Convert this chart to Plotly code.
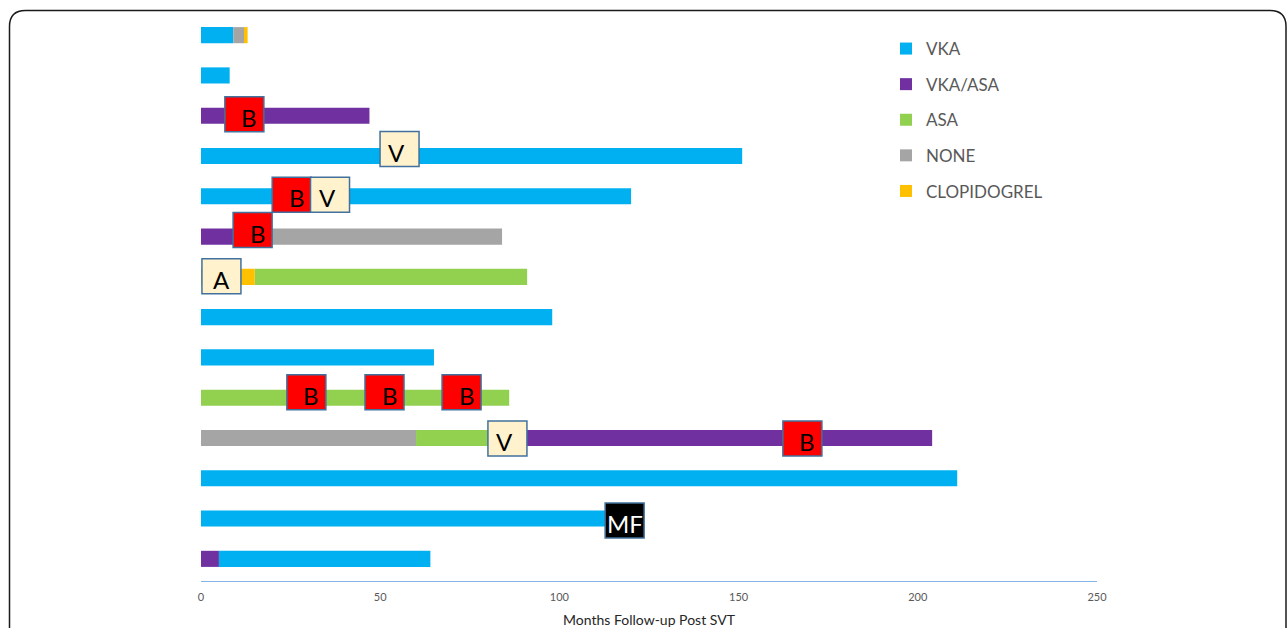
import plotly.graph_objects as go

# ---------------- data ----------------
CATEGORIES = ["VKA", "VKA/ASA", "ASA", "NONE", "CLOPIDOGREL"]
COLORS = ["#00B0F0", "#7030A0", "#92D050", "#A5A5A5", "#FFC000"]

VKA_ROW = [1, 2, 4, 5, 8, 9, 12, 13, 14]
VKA_START = [0, 0, 0, 0, 0, 0, 0, 0, 5]
VKA_END = [9, 8, 151, 120, 98, 65, 211, 114, 64]

VKAASA_ROW = [3, 6, 11, 14]
VKAASA_START = [0, 0, 84, 0]
VKAASA_END = [47, 10, 204, 5]

ASA_ROW = [7, 10, 11]
ASA_START = [15, 0, 60]
ASA_END = [91, 86, 84]

NONE_ROW = [1, 6, 11]
NONE_START = [9, 10, 0]
NONE_END = [12, 84, 60]

CLOP_ROW = [1, 7]
CLOP_START = [12, 0]
CLOP_END = [13, 15]

EV_ROW = [3, 4, 5, 5, 6, 7, 10, 10, 10, 11, 11, 13]
EV_MONTH = [12.1, 55.4, 25.3, 36.0, 14.4, 5.7, 29.4, 51.2, 72.7, 85.5, 167.8, 118.2]
EV_LABEL = ["B", "V", "B", "V", "B", "A", "B", "B", "B", "V", "B", "MF"]

X_TICKS = [0, 50, 100, 150, 200, 250]
X_TITLE = "Months Follow-up Post SVT"

# ---------------- style ----------------
PX_PER_X = 896 / 250.0
PX_PER_Y = 40.3
EV_DY_PX = [-1.5, -7, -1.5, -1.5, -6.5, -0.5, -5.5, -5.5, -5.5, 0.5, 0.5, 2]
BOX_W_PX = 39
BOX_H_PX = 35
FONT = "Lato, 'Open Sans', sans-serif"

fig = go.Figure()

series = [
    (VKA_ROW, VKA_START, VKA_END),
    (VKAASA_ROW, VKAASA_START, VKAASA_END),
    (ASA_ROW, ASA_START, ASA_END),
    (NONE_ROW, NONE_START, NONE_END),
    (CLOP_ROW, CLOP_START, CLOP_END),
]
for name, color, (rows, starts, ends) in zip(CATEGORIES, COLORS, series):
    fig.add_trace(go.Bar(
        name=name,
        y=rows,
        base=starts,
        x=[e - s for s, e in zip(starts, ends)],
        orientation="h",
        width=0.4,
        marker=dict(color=color, line=dict(width=0)),
        legendgroup=name,
        hovertemplate=name + ": %{base}–%{x}<extra></extra>",
    ))

styles = {
    "B": dict(fill="#FF0000", font="#000000", xshift=5),
    "V": dict(fill="#FFF2CC", font="#000000", xshift=-3),
    "A": dict(fill="#FFF2CC", font="#000000", xshift=0),
    "MF": dict(fill="#000000", font="#FFFFFF", xshift=0),
}
hw = BOX_W_PX / 2 / PX_PER_X
hh = BOX_H_PX / 2 / PX_PER_Y
for r, m, lab, dy in zip(EV_ROW, EV_MONTH, EV_LABEL, EV_DY_PX):
    st = styles[lab]
    yc = r + dy / PX_PER_Y
    fig.add_shape(type="rect", xref="x", yref="y",
                  x0=m - hw, x1=m + hw, y0=yc - hh, y1=yc + hh,
                  fillcolor=st["fill"], line=dict(color="#41719C", width=1.5),
                  layer="above")
    fig.add_annotation(x=m, y=yc, xref="x", yref="y", text=lab, showarrow=False,
                       font=dict(family=FONT, size=24, color=st["font"]),
                       xshift=st["xshift"], yshift=-3)

# rounded frame
def px2paper(px, py):
    return (px - 201) / 896.0, (581 - py) / 568.0

L, T = px2paper(9.5, 10.5)
R, B = px2paper(1286, 700)
rx, ry = 16 / 896.0, 16 / 568.0
path = (f"M {L},{B} L {L},{T-ry} Q {L},{T} {L+rx},{T} "
        f"L {R-rx},{T} Q {R},{T} {R},{T-ry} L {R},{B}")
fig.add_shape(type="path", xref="paper", yref="paper", path=path,
              line=dict(color="#1a1a1a", width=1.5))

fig.update_layout(
    width=1287, height=628,
    margin=dict(l=201, r=190, t=13, b=47, autoexpand=False),
    paper_bgcolor="white", plot_bgcolor="white",
    barmode="overlay",
    showlegend=True,
    legend=dict(x=(886 - 201) / 896.0, y=(581 - 31) / 568.0, xanchor="left", yanchor="top",
                font=dict(family=FONT, size=17, color="#595959"),
                tracegroupgap=10.5, bgcolor="rgba(0,0,0,0)"),
    xaxis=dict(range=[0, 250], tickvals=X_TICKS, showgrid=False, zeroline=False,
               showline=True, linecolor="#86B4E6", linewidth=1.2, ticks="",
               automargin=False, ticklabelstandoff=6,
               tickfont=dict(family=FONT, size=11, color="#595959"),
               title=dict(text=X_TITLE, font=dict(family=FONT, size=14, color="#262626"),
                          standoff=21)),
    yaxis=dict(range=[14.55, 0.45], showticklabels=False, showgrid=False,
               zeroline=False, showline=False, ticks="", automargin=False),
)

fig.write_html("out.html", config={"displayModeBar": False},
               post_script="document.body.style.margin='0';document.body.style.overflow='hidden';")
